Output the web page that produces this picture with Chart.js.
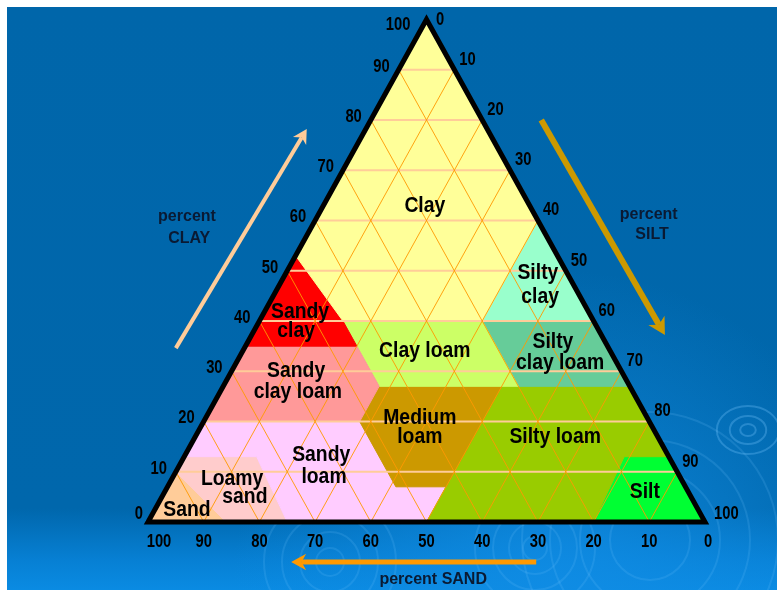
<!DOCTYPE html>
<html>
<head>
<meta charset="utf-8">
<title>Soil texture triangle</title>
<script src="https://cdn.jsdelivr.net/npm/chart.js@4.4.1/dist/chart.umd.min.js"></script>
<style>
  html, body { margin: 0; padding: 0; background: #ffffff; }
  #wrap { width: 777px; height: 590px; }
  canvas { display: block; }
</style>
</head>
<body>
<div id="wrap"><canvas id="triangle" width="777" height="590"></canvas></div>
<script>
// tick labels along the three sides
const sandTicks = [100, 90, 80, 70, 60, 50, 40, 30, 20, 10, 0];
const clayTicks = [0, 10, 20, 30, 40, 50, 60, 70, 80, 90, 100];
const siltTicks = [0, 10, 20, 30, 40, 50, 60, 70, 80, 90, 100];
const gridSteps = [10, 20, 30, 40, 50, 60, 70, 80, 90];

// texture classes, corners given as [sand %, clay %]
const clayArea = [[47, 53], [45, 40], [20, 40], [0, 60], [0, 100]];
const sandyClay = [[65, 35], [45, 35], [45, 40], [47, 53]];
const siltyClay = [[20, 40], [0, 40], [0, 60]];
const sandyClayLoam = [[80, 20], [52, 20], [45, 27], [45, 35], [65, 35]];
const clayLoam = [[45, 27], [20, 27], [20, 40], [45, 40]];
const siltyClayLoam = [[20, 27], [0, 27], [0, 40], [20, 40]];
const mediumLoam = [[45, 27], [23, 27], [43, 7], [52, 7], [52, 20]];
const siltyLoam = [[50, 0], [20, 0], [8, 13], [0, 13], [0, 27], [23, 27], [43, 7]];
const siltArea = [[20, 0], [0, 0], [0, 13], [8, 13]];
const sandyLoam = [[75, 0], [50, 0], [43, 7], [52, 7], [52, 20], [80, 20], [87, 13], [74, 13]];
const loamySand = [[86, 0], [75, 0], [74, 13], [87, 13], [90, 10]];
const sandArea = [[100, 0], [86, 0], [90, 10]];

const classes = [
  { name: 'Clay', pts: clayArea, color: '#FFFF99' },
  { name: 'Sandy clay', pts: sandyClay, color: '#FF0000' },
  { name: 'Silty clay', pts: siltyClay, color: '#99FFCC' },
  { name: 'Sandy clay loam', pts: sandyClayLoam, color: '#FF9999' },
  { name: 'Clay loam', pts: clayLoam, color: '#CCFF66' },
  { name: 'Silty clay loam', pts: siltyClayLoam, color: '#66CC99' },
  { name: 'Medium loam', pts: mediumLoam, color: '#CC9900' },
  { name: 'Silty loam', pts: siltyLoam, color: '#99CC00' },
  { name: 'Silt', pts: siltArea, color: '#00FF33' },
  { name: 'Sandy loam', pts: sandyLoam, color: '#FFCCFF' },
  { name: 'Loamy sand', pts: loamySand, color: '#FFCCCC' },
  { name: 'Sand', pts: sandArea, color: '#FFCC99' }
];

// sand/clay -> plane of the chart (x runs 0..100 along the base, y is clay)
const tern = (s, c) => ({ x: 100 - s - c / 2, y: c });
const poly = pts => pts.concat([pts[0]]).map(p => tern(p[0], p[1]));

// where the words go, in chart units
const classLabels = [
  ['Clay', 49.7, 62.9], ['Sandy', 27.3, 41.8], ['clay', 26.6, 38.0],
  ['Sandy', 26.6, 30.0], ['clay loam', 26.9, 25.9], ['Clay loam', 49.7, 34.0],
  ['Silty', 70.0, 49.6], ['clay', 70.4, 44.8], ['Silty', 72.7, 35.8], ['clay loam', 74.0, 31.6],
  ['Medium', 48.8, 20.7], ['loam', 48.8, 16.9], ['Silty loam', 73.1, 16.9], ['Silt', 89.2, 6.0],
  ['Sandy', 31.1, 13.3], ['loam', 31.6, 9.0], ['Loamy', 15.1, 8.6], ['sand', 17.4, 5.0], ['Sand', 7.0, 2.4]
];

// ========== datasets ==========
const datasets = [];

// outer frame, on top of everything
datasets.push({
  data: [tern(0, 100), tern(100, 0), tern(0, 0), tern(0, 100), tern(100, 0)],
  showLine: true, fill: false, borderColor: '#000000', borderWidth: 5,
  borderJoinStyle: 'miter', pointRadius: 0, clip: false, order: 0
});

// diagonal grid (constant sand, constant silt)
gridSteps.forEach(v => {
  datasets.push({
    data: [tern(v, 100 - v), tern(v, 0)],
    showLine: true, fill: false, borderColor: 'rgba(255,153,0,0.9)', borderWidth: 1, pointRadius: 0, order: 1
  });
  datasets.push({
    data: [tern(0, 100 - v), tern(100 - v, 0)],
    showLine: true, fill: false, borderColor: 'rgba(255,153,0,0.9)', borderWidth: 1, pointRadius: 0, order: 1
  });
});

// horizontal clay lines
gridSteps.forEach(c => {
  datasets.push({
    data: [tern(100 - c, c), tern(0, c)],
    showLine: true, fill: false, borderColor: '#FFCC99', borderWidth: 2, pointRadius: 0, order: 2
  });
});

// coloured classes
classes.forEach(k => {
  datasets.push({
    label: k.name, data: poly(k.pts), showLine: true, fill: 'shape',
    backgroundColor: k.color, borderColor: k.color, borderWidth: 1, pointRadius: 0, order: 3
  });
});

// ========== drawing helpers ==========
const FONT = '"Liberation Sans", Arial, sans-serif';

function say(ctx, txt, x, y, size, align, squeeze, color) {
  ctx.save();
  ctx.translate(x, y);
  ctx.scale(squeeze, 1);
  ctx.font = 'bold ' + size + 'px ' + FONT;
  ctx.fillStyle = color || '#000000';
  ctx.textAlign = align;
  ctx.textBaseline = 'middle';
  ctx.fillText(txt, 0, 0);
  ctx.restore();
}

function arrow(ctx, x1, y1, x2, y2, color, w, head) {
  const a = Math.atan2(y2 - y1, x2 - x1);
  const c = Math.cos(a), s = Math.sin(a);
  ctx.save();
  ctx.strokeStyle = color;
  ctx.fillStyle = color;
  ctx.lineWidth = w;
  ctx.beginPath();
  ctx.moveTo(x1, y1);
  ctx.lineTo(x2 - c * head * 0.7, y2 - s * head * 0.7);
  ctx.stroke();
  ctx.beginPath();
  ctx.moveTo(x2, y2);
  ctx.lineTo(x2 - c * head + s * head * 0.55, y2 - s * head - c * head * 0.55);
  ctx.lineTo(x2 - c * head * 0.7, y2 - s * head * 0.7);
  ctx.lineTo(x2 - c * head - s * head * 0.55, y2 - s * head + c * head * 0.55);
  ctx.closePath();
  ctx.fill();
  ctx.restore();
}

const backdrop = {
  id: 'backdrop',
  beforeDraw(chart) {
    const ctx = chart.ctx;
    ctx.save();
    ctx.fillStyle = '#ffffff';
    ctx.fillRect(0, 0, chart.width, chart.height);
    const g = ctx.createLinearGradient(0, 7, 0, chart.height);
    g.addColorStop(0, '#0066AA');
    g.addColorStop(0.86, '#0067AC');
    g.addColorStop(0.95, '#0780D4');
    g.addColorStop(1, '#0A8BE2');
    ctx.fillStyle = g;
    ctx.fillRect(7, 7, chart.width - 7, chart.height - 7);
    const r = ctx.createRadialGradient(560, 600, 20, 560, 600, 330);
    r.addColorStop(0, 'rgba(16,140,228,0.85)');
    r.addColorStop(1, 'rgba(16,140,228,0)');
    ctx.fillStyle = r;
    ctx.fillRect(7, 7, chart.width - 7, chart.height - 7);
    // faint ripples
    ctx.lineWidth = 2;
    ctx.strokeStyle = 'rgba(120,200,255,0.16)';
    [[330, 562, [14, 30, 48, 66]], [535, 548, [12, 26, 42, 60]], [650, 540, [40, 70, 100, 128]]].forEach(r0 => {
      r0[2].forEach(rad => {
        ctx.beginPath();
        ctx.arc(r0[0], r0[1], rad, 0, Math.PI * 2);
        ctx.stroke();
      });
    });
    ctx.strokeStyle = 'rgba(120,200,255,0.3)';
    [6, 14, 24].forEach(rad => {
      ctx.beginPath();
      ctx.ellipse(748, 430, rad * 1.3, rad, 0, 0, Math.PI * 2);
      ctx.stroke();
    });
    ctx.restore();
  }
};

const words = {
  id: 'words',
  afterDatasetsDraw(chart) {
    const ctx = chart.ctx;
    const X = v => chart.scales.x.getPixelForValue(v);
    const Y = v => chart.scales.y.getPixelForValue(v);

    // percent clay, left side
    clayTicks.forEach(c => {
      const p = tern(100 - c, c);
      let dx = -9, dy = -3;
      if (c === 100) { dx = -16; dy = 6; }
      if (c === 0) { dx = -5; dy = -8; }
      say(ctx, String(c), X(p.x) + dx, Y(p.y) + dy, 18, 'right', 0.82);
    });
    // percent silt, right side
    siltTicks.forEach(t => {
      const p = tern(0, 100 - t);
      let dx = 5, dy = -10;
      if (t === 0) { dx = 9.5; dy = 1; }
      if (t === 100) { dx = 9; dy = -8; }
      say(ctx, String(t), X(p.x) + dx, Y(p.y) + dy, 18, 'left', 0.82);
    });
    // percent sand, base
    sandTicks.forEach(s => {
      const p = tern(s, 0);
      let dx = 0;
      if (s === 100) dx = 11;
      if (s === 0) dx = 3;
      say(ctx, String(s), X(p.x) + dx, Y(p.y) + 20, 18, 'center', 0.82);
    });

    classLabels.forEach(l => say(ctx, l[0], X(l[1]), Y(l[2]), 22, 'center', 0.88));

    const navy = '#0A1A33';
    say(ctx, 'percent', X(7.0), Y(60.7), 16, 'center', 1, navy);
    say(ctx, 'CLAY', X(7.4), Y(56.3), 16, 'center', 1, navy);
    say(ctx, 'percent', X(89.9), Y(61.2), 16, 'center', 1, navy);
    say(ctx, 'SILT', X(90.5), Y(57.1), 16, 'center', 1, navy);
    say(ctx, 'percent SAND', X(51.2), Y(-11.5), 16, 'center', 1, navy);

    arrow(ctx, X(5.0), Y(34.6), X(28.5), Y(78.2), '#FFCC99', 4, 14);
    arrow(ctx, X(70.6), Y(80.0), X(92.8), Y(37.2), '#CC9900', 6, 17);
    arrow(ctx, X(69.7), Y(-7.96), X(25.7), Y(-7.96), '#FF9900', 5, 15);
  }
};

new Chart(document.getElementById('triangle'), {
  type: 'scatter',
  data: { datasets },
  options: {
    responsive: false,
    animation: false,
    events: [],
    layout: { padding: { left: 148, right: 72, top: 19.5, bottom: 68 } },
    scales: {
      x: { type: 'linear', min: 0, max: 100, display: false },
      y: { type: 'linear', min: 0, max: 100, display: false }
    },
    plugins: { legend: { display: false }, tooltip: { enabled: false } }
  },
  plugins: [backdrop, words]
});
</script>
</body>
</html>
